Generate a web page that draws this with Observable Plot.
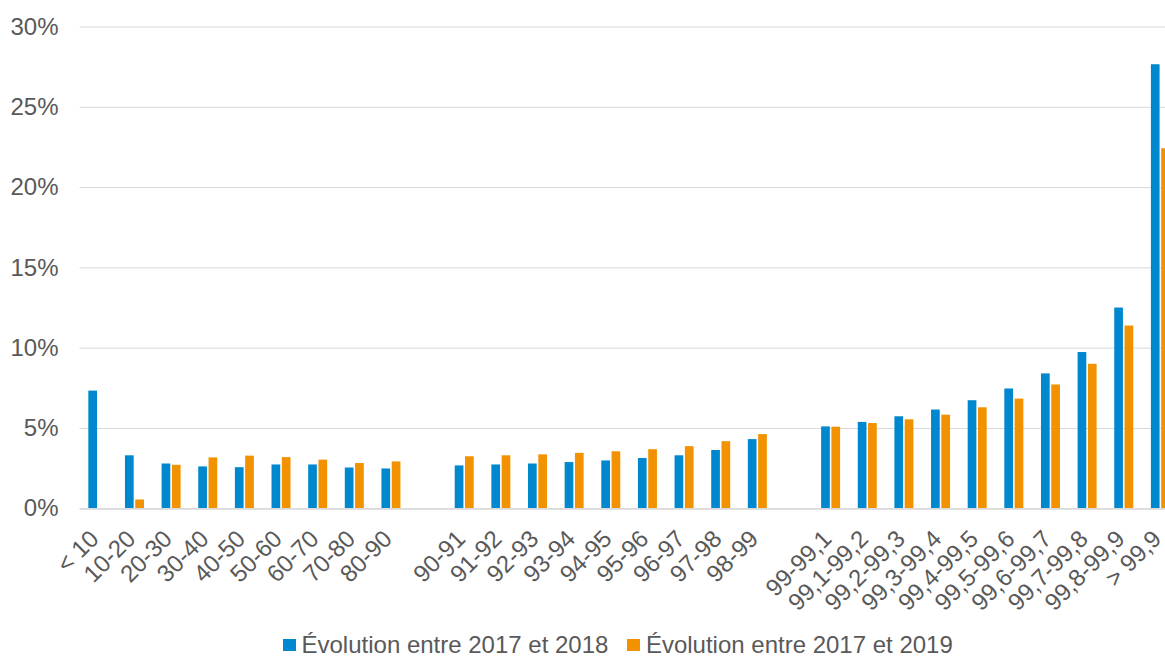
<!DOCTYPE html>
<html>
<head>
<meta charset="utf-8">
<script src="https://cdn.jsdelivr.net/npm/d3@7"></script>
<script src="https://cdn.jsdelivr.net/npm/@observablehq/plot@0.6"></script>
<style>
  html, body { margin: 0; padding: 0; background: #fff; overflow: hidden; }
  body { width: 1165px; height: 660px; font-family: "Liberation Sans", Arial, sans-serif; }
  #chart svg { display: block; }
  .legend { display: flex; align-items: center; height: 30px; margin-left: 283px; color: #595959; font-size: 24px; white-space: nowrap; }
  .legend .item { display: flex; align-items: center; }
  .legend .item + .item { margin-left: 19px; }
  .legend .sw { width: 12.5px; height: 12.5px; margin-right: 6px; }
</style>
</head>
<body>
<div id="chart"></div>
<div class="legend" id="legend"></div>
<script>
// Categories (with two empty spacer slots between groups)
const categories = [
  "< 10", "10-20", "20-30", "30-40", "40-50", "50-60", "60-70", "70-80", "80-90",
  "90-91", "91-92", "92-93", "93-94", "94-95", "95-96", "96-97", "97-98", "98-99",
  "99-99,1", "99,1-99,2", "99,2-99,3", "99,3-99,4", "99,4-99,5", "99,5-99,6",
  "99,6-99,7", "99,7-99,8", "99,8-99,9", "> 99,9"
];
const spacers = ["gap1", "gap2"];
const slotOrder = [
  ...categories.slice(0, 9), spacers[0],
  ...categories.slice(9, 18), spacers[1],
  ...categories.slice(18)
];

const seriesNames = ["Évolution entre 2017 et 2018", "Évolution entre 2017 et 2019"];
const seriesColors = ["#0088CE", "#F39200"];

// Values in %
const evol2018 = [7.33, 3.30, 2.79, 2.61, 2.56, 2.73, 2.73, 2.54, 2.48,
  2.67, 2.73, 2.79, 2.88, 2.98, 3.13, 3.30, 3.63, 4.31,
  5.10, 5.38, 5.73, 6.15, 6.73, 7.46, 8.40, 9.73, 12.50, 27.65];
const evol2019 = [null, 0.55, 2.71, 3.17, 3.28, 3.19, 3.03, 2.82, 2.92,
  3.24, 3.30, 3.36, 3.45, 3.55, 3.68, 3.87, 4.18, 4.62,
  5.08, 5.31, 5.54, 5.83, 6.29, 6.83, 7.71, 9.00, 11.38, 22.42];

const yTicks = [0, 0.05, 0.10, 0.15, 0.20, 0.25, 0.30];

const d2018 = categories.map((c, i) => ({cat: c, v: evol2018[i] / 100}));
const d2019 = categories.map((c, i) => ({cat: c, v: evol2019[i] == null ? null : evol2019[i] / 100})).filter(d => d.v != null);

const textColor = "#595959";
const fontFamily = "'Liberation Sans', Arial, sans-serif";

const chart = Plot.plot({
  width: 1165,
  height: 630,
  marginLeft: 79.5,
  marginRight: -13.7,
  marginTop: 26.5,
  marginBottom: 121.7,
  style: { fontFamily, fontSize: "24px", color: textColor, background: "#fff" },
  x: { type: "band", domain: slotOrder, paddingInner: 0.4814, paddingOuter: 0.2407, round: false, axis: null },
  y: { domain: [0, 0.30], axis: null },
  marks: [
    Plot.ruleY(yTicks.filter(t => t > 0), { stroke: "#d9d9d9", strokeWidth: 1 }),
    Plot.barY(d2018, { x: "cat", y: "v", fill: seriesColors[0], insetRight: 10.3 }),
    Plot.barY(d2019, { x: "cat", y: "v", fill: seriesColors[1], insetLeft: 10.3 }),
    Plot.ruleY([0], { stroke: "#d9d9d9", strokeWidth: 1.8 }),
    Plot.axisY({ ticks: yTicks, tickFormat: d3.format(".0%"), tickSize: 0, tickPadding: 21.5, label: null, fill: textColor, fontSize: 24 }),
    Plot.axisX({ ticks: categories, tickSize: 0, tickPadding: 26, dx: -3.5, tickRotate: -45, label: null, fill: textColor, fontSize: 24 })
  ]
});
document.getElementById("chart").appendChild(chart);

const legend = document.getElementById("legend");
seriesNames.forEach((name, i) => {
  const item = document.createElement("div");
  item.className = "item";
  const sw = document.createElement("span");
  sw.className = "sw";
  sw.style.background = seriesColors[i];
  const label = document.createElement("span");
  label.textContent = name;
  item.appendChild(sw);
  item.appendChild(label);
  legend.appendChild(item);
});
</script>
</body>
</html>
